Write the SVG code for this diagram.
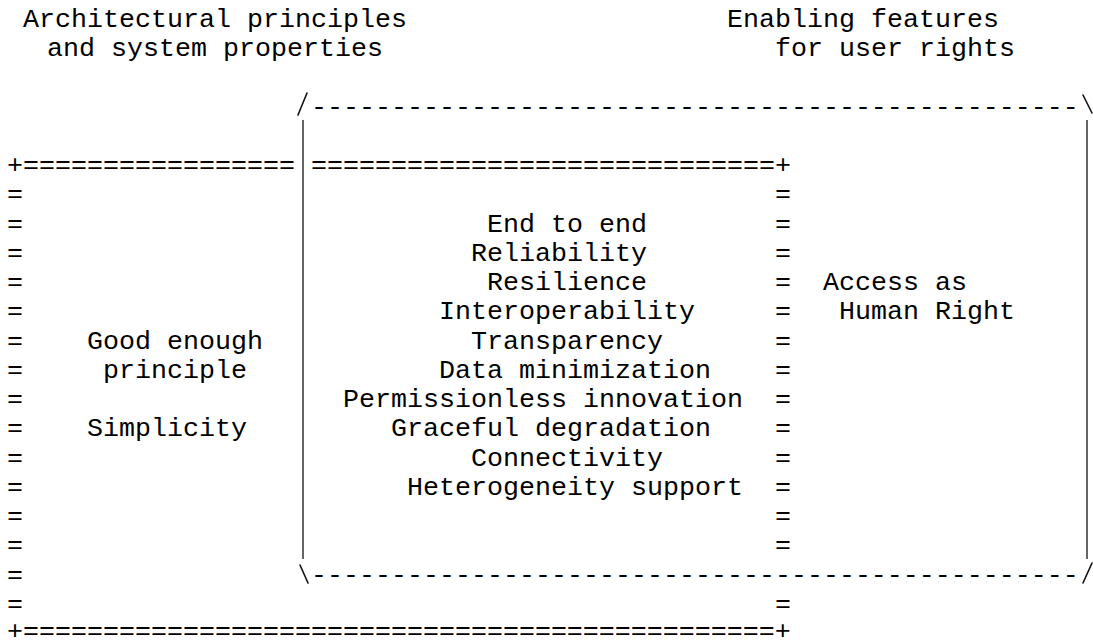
<svg xmlns="http://www.w3.org/2000/svg" width="1093" height="644" viewBox="0 0 1093 644">
<style>
text{font-family:"Liberation Mono","Courier New",monospace;font-size:26.667px;fill:#000;white-space:pre}
.bar{stroke:#4a4a4a;stroke-width:1.7;fill:none}
.sl{stroke:#111;stroke-width:1.6;fill:none;stroke-linecap:round}
</style>
<rect width="1093" height="644" fill="#fff"/>
<g id="header-left">
<text x="23" y="27">Architectural principles</text>
<text x="47" y="56.2">and system properties</text>
</g>
<g id="header-right">
<text x="727" y="27">Enabling features</text>
<text x="775" y="56.2">for user rights</text>
</g>
<g id="box-architecture">
<text x="7" y="173.2">+=================</text>
<text x="311" y="173.2">=============================+</text>
<text x="7" y="202.4">=</text><text x="775" y="202.4">=</text>
<text x="7" y="231.7">=</text><text x="775" y="231.7">=</text>
<text x="7" y="260.9">=</text><text x="775" y="260.9">=</text>
<text x="7" y="290.2">=</text><text x="775" y="290.2">=</text>
<text x="7" y="319.4">=</text><text x="775" y="319.4">=</text>
<text x="7" y="348.6">=</text><text x="775" y="348.6">=</text>
<text x="7" y="377.9">=</text><text x="775" y="377.9">=</text>
<text x="7" y="407.1">=</text><text x="775" y="407.1">=</text>
<text x="7" y="436.4">=</text><text x="775" y="436.4">=</text>
<text x="7" y="465.6">=</text><text x="775" y="465.6">=</text>
<text x="7" y="494.8">=</text><text x="775" y="494.8">=</text>
<text x="7" y="524.1">=</text><text x="775" y="524.1">=</text>
<text x="7" y="553.3">=</text><text x="775" y="553.3">=</text>
<text x="7" y="582.6">=</text>
<text x="7" y="611.8">=</text><text x="775" y="611.8">=</text>
<text x="7" y="638.5">+===============================================+</text>
</g>
<g id="node-architectural-principles">
<text x="87" y="348.6">Good enough</text>
<text x="103" y="377.9">principle</text>
<text x="87" y="436.4">Simplicity</text>
</g>
<g id="node-system-properties">
<text x="487" y="231.7">End to end</text>
<text x="471" y="260.9">Reliability</text>
<text x="487" y="290.2">Resilience</text>
<text x="439" y="319.4">Interoperability</text>
<text x="471" y="348.6">Transparency</text>
<text x="439" y="377.9">Data minimization</text>
<text x="343" y="407.1">Permissionless innovation</text>
<text x="391" y="436.4">Graceful degradation</text>
<text x="471" y="465.6">Connectivity</text>
<text x="407" y="494.8">Heterogeneity support</text>
</g>
<g id="box-user-rights">
<text x="311" y="114.7">------------------------------------------------</text>
<text x="311" y="582.6">------------------------------------------------</text>
<line class="bar" x1="303" y1="120" x2="303" y2="559"/>
<line class="bar" x1="1087" y1="120" x2="1087" y2="559"/>
<line class="sl" x1="298" y1="115" x2="307" y2="93"/>
<line class="sl" x1="1083" y1="95" x2="1092" y2="113"/>
<line class="sl" x1="300" y1="565" x2="308" y2="583"/>
<line class="sl" x1="1092" y1="563" x2="1083" y2="583"/>
</g>
<g id="node-user-rights">
<text x="823" y="290.2">Access as</text>
<text x="839" y="319.4">Human Right</text>
</g>
<g id="connectors"></g>
</svg>
